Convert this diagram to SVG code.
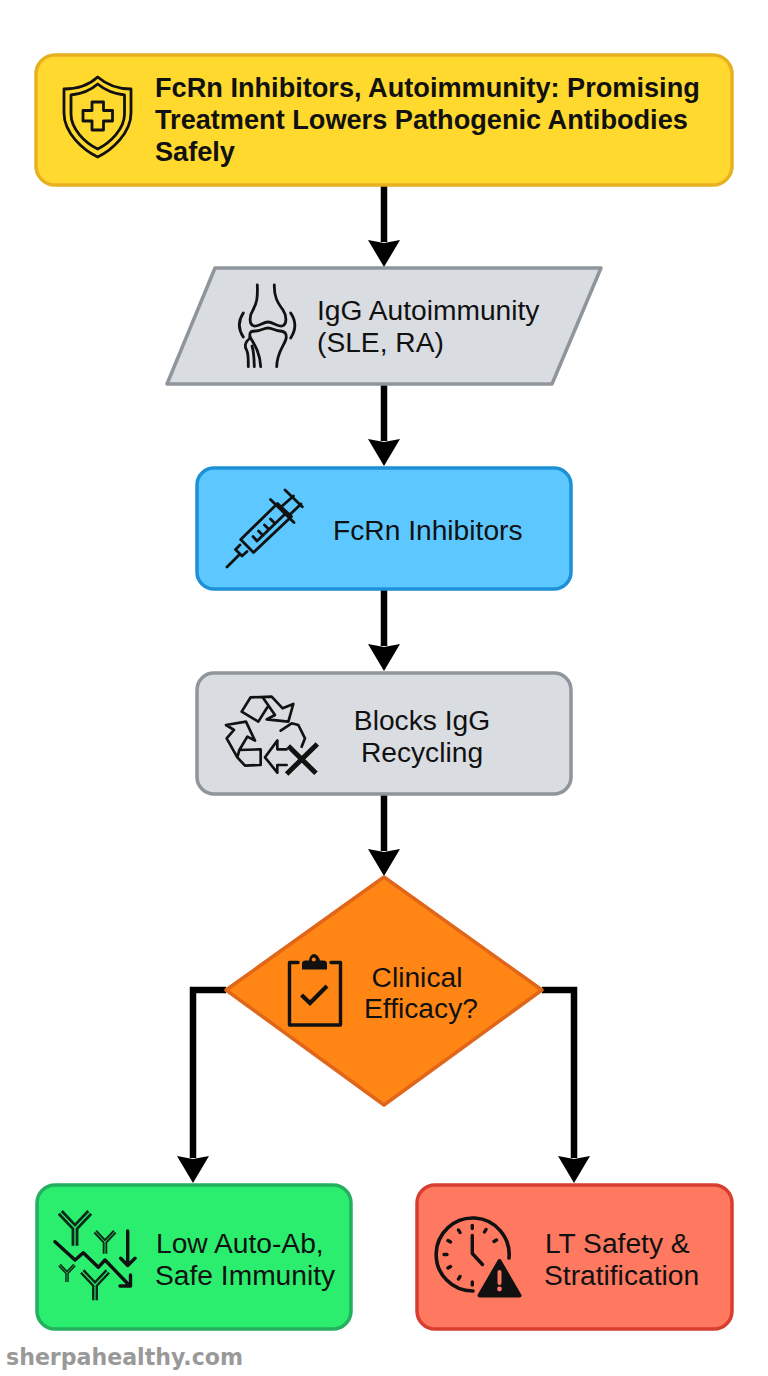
<svg xmlns="http://www.w3.org/2000/svg" width="768" height="1376" viewBox="0 0 768 1376">
<style>
text{font-family:"Liberation Sans",Arial,sans-serif;font-size:28.200px;fill:#111}
.t{font-weight:bold;font-size:27.150px}
.c{text-anchor:middle}
.box{stroke-width:3.500;stroke-linejoin:round}
.ic{fill:none;stroke:#111;stroke-width:2.800;stroke-linecap:round;stroke-linejoin:round}
.ib{fill:none;stroke:#111;stroke-width:3.400;stroke-linecap:round;stroke-linejoin:round}
.con{fill:none;stroke:#000;stroke-width:6.500;stroke-linejoin:miter}
.wm{font-family:"DejaVu Sans",sans-serif;font-weight:bold;font-size:22.100px;fill:#999}
</style>
<defs>
<marker id="ah" markerUnits="userSpaceOnUse" markerWidth="30" markerHeight="34" refX="2" refY="17" orient="auto">
<path d="M0 1L27 17L0 33L3 17Z" fill="#000"/>
</marker>
<g id="ab">
<path d="M0 18V0M0 0L-15 -16M0 0L15 -16" fill="none" stroke="#0b2a18" stroke-width="7"/>
<path d="M0 19V0M0 0L-16 -17M0 0L16 -17" fill="none" stroke="#2BEE6E" stroke-width="1.300"/>
</g>
</defs>
<rect width="768" height="1376" fill="#fff"/>
<g id="connectors">
<path class="con" d="M384 186V242" marker-end="url(#ah)"/>
<path class="con" d="M384 385V441" marker-end="url(#ah)"/>
<path class="con" d="M384 590V646" marker-end="url(#ah)"/>
<path class="con" d="M384 795V851" marker-end="url(#ah)"/>
<path class="con" d="M226 990H193V1158" marker-end="url(#ah)"/>
<path class="con" d="M542 990H574V1158" marker-end="url(#ah)"/>
</g>
<g id="node-title">
<rect class="box" x="36" y="55" width="696" height="130" rx="19" fill="#FFD92E" stroke="#E8B020"/>
<path class="ic" d="M97.700 77C108 86 120 89 131 89V113C131 133 112 150 97.700 157C83 150 64 133 64 113V89C75 89 88 86 97.700 77Z"/>
<path class="ic" d="M97.700 84C106 91 116 94 124.500 95V114C124.500 129 110 143 97.700 149C85 143 71 129 71 114V95C80 94 90 91 97.700 84Z"/>
<path class="ic" d="M92 102H103.500V110.500H112.500V121H103.500V130H92V121H83V110.500H92Z"/>
<text class="t" x="155" y="97">FcRn Inhibitors, Autoimmunity: Promising</text>
<text class="t" x="155" y="129">Treatment Lowers Pathogenic Antibodies</text>
<text class="t" x="155" y="161">Safely</text>
</g>
<g id="node-igg">
<path class="box" d="M215 268H601L552 384H167Z" fill="#D9DCE0" stroke="#8E959C"/>
<path class="ic" d="M257.300 285C257.800 297 257 303 253 310C249 316 249 325 254 326C259 327 263 322 268 322C273 322 277 327 282 326C287 325 287 316 283 310C277 302 274 296 274.300 285"/>
<path class="ic" d="M250 337C249 331 252 331 256 331C260 331 264 328 268 328C272 328 276 331 280 331C285 331 287 334 286 339C284 346 277 352 276.700 366.700"/>
<path class="ic" d="M250 337C254 344 260 352 260.700 366.700"/>
<path class="ic" d="M249 339C245 342 244 347 247 351C248.500 355 248.300 361 248.300 366.700M252 346C254 352 254 358 254.300 366.700"/>
<path class="ic" d="M243.300 313C238 321 238 329 243.300 337M290.700 313C296 321 296 330 290.700 338"/>
<text x="317" y="320">IgG Autoimmunity</text>
<text x="317" y="352">(SLE, RA)</text>
</g>
<g id="node-fcrn">
<rect class="box" x="197" y="468" width="374" height="121" rx="17" fill="#5CC8FF" stroke="#1E90D8"/>
<path class="ic" d="M227 567L240 554M240.700 539.500L253.500 552.500L291.500 516.500L277.500 503.500ZM240 545L235.500 549.500L242 556L247 551.500M270.500 499.500L294 522.500M285 490L302.300 506.700M281 507L293.500 496M289.500 515L301 504"/>
<path class="ic" d="M257 541L284 515M257 541L253 536.500M263 535.500L258.500 531M269 529.500L264.500 525M275 523.500L270.500 519"/>
<text x="333" y="540">FcRn Inhibitors</text>
</g>
<g id="node-blocks">
<rect class="box" x="197" y="673" width="374" height="121" rx="17" fill="#D9DCE0" stroke="#8E959C"/>
<g transform="translate(190,670) scale(.3333)" fill="none" stroke="#111" stroke-width="8" stroke-linejoin="round" stroke-linecap="round">
<path d="M155 125L182 82L245 80L278 115L310 102L295 155L230 148L255 135L220 85M155 125L205 155L232 112"/>
<path d="M108 165L168 155L195 212L172 200L148 240L212 238V285L165 287L142 262L110 205L132 180ZM148 240L142 262"/>
<path d="M272 182L305 160L325 165L345 205L335 230"/>
<path d="M262 212L225 262L262 308V285H290M262 212V238H290"/>
<path d="M295 228L378 310M382 222L290 312" stroke-width="15" stroke-linecap="butt"/>
</g>
<text class="c" x="422" y="730">Blocks IgG</text>
<text class="c" x="422" y="762">Recycling</text>
</g>
<g id="node-efficacy">
<path class="box" d="M384 877L542 990L384 1105L226 990Z" fill="#FF8514" stroke="#E0661A"/>
<path class="ib" d="M298 962.500H289.500V1025H340.500V962.500H331"/>
<path d="M302 969.500V963.500Q302 960.500 306 960.500H309Q310 954 314 954Q318 954 320 960.500H323Q327 960.500 327 963.500V969.500Z" fill="#111"/>
<circle cx="313.800" cy="959.500" r="2" fill="#FF8514"/>
<path d="M301.500 995L310 1003L327 986" fill="none" stroke="#111" stroke-width="4.200"/>
<text class="c" x="417" y="987">Clinical</text>
<text class="c" x="421" y="1018">Efficacy?</text>
</g>
<g id="node-low">
<rect class="box" x="37" y="1185" width="314" height="144" rx="18" fill="#2BEE6E" stroke="#25B060"/>
<use href="#ab" transform="translate(75,1228) scale(.98)"/>
<use href="#ab" transform="translate(105,1242) scale(.65)"/>
<use href="#ab" transform="translate(67,1273) scale(.5)"/>
<use href="#ab" transform="translate(95,1285) scale(.85)"/>
<path class="ib" d="M55 1241.700L75 1260L83.300 1252.700L98.300 1267.300L105 1260L130 1286M120 1286H130.500V1275M127.700 1231V1265M120.700 1258.300L127.700 1265.500L135 1258.300"/>
<text x="156" y="1253">Low Auto-Ab,</text>
<text x="155" y="1285">Safe Immunity</text>
</g>
<g id="node-lt">
<rect class="box" x="417" y="1185" width="315" height="144" rx="18" fill="#FF7860" stroke="#D83E30"/>
<path d="M509 1258A36.500 36.500 0 1 0 473 1291" fill="none" stroke="#111" stroke-width="3.600" stroke-linecap="round"/>
<path d="M472.300 1225.500V1228.500M486 1229.500L484.500 1232M496.500 1240L494 1241.500M444 1254.500H447M448 1268L450.500 1266.500M458.500 1279L460 1276.500M472.300 1282V1285M448 1240.500L450.500 1242M458.500 1230L460 1232.500" fill="none" stroke="#111" stroke-width="3.400" stroke-linecap="round"/>
<path d="M472.300 1235.500V1253.500L482.500 1264.500" fill="none" stroke="#111" stroke-width="3.400" stroke-linecap="round" stroke-linejoin="round"/>
<path d="M499.500 1261L519.500 1295.500H479.500Z" fill="#111" stroke="#111" stroke-width="4" stroke-linejoin="round"/>
<path d="M499.500 1272V1283" stroke="#FF7860" stroke-width="4" stroke-linecap="round"/>
<circle cx="499.500" cy="1289" r="2.400" fill="#FF7860"/>
<text x="545" y="1253">LT Safety &amp;</text>
<text x="544" y="1285">Stratification</text>
</g>
<text class="wm" x="6" y="1365">sherpahealthy.com</text>
</svg>
